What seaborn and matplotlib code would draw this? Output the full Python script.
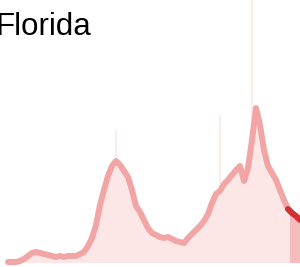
import numpy as np
import pandas as pd
import matplotlib
matplotlib.use('Agg')
import matplotlib.pyplot as plt
import seaborn as sns

# weekly 7-day average of new cases (hundreds)
avg_cases = [1, 1, 1, 2, 4, 7, 10, 11, 10, 9, 8, 7, 6, 7, 6, 7, 7, 7, 9, 11,
             17, 25, 38, 58, 73, 87, 97, 102, 98, 92, 86, 73, 57, 51, 43, 35, 30, 28, 26, 25,
             26, 24, 22, 21, 20, 25, 29, 33, 37, 42, 49, 60, 69, 72, 79, 83, 88, 93, 97, 82,
             95, 123, 155, 138, 113, 97, 90, 83, 73, 63, 54, 50, 47, 43]

# daily reported cases (same scale), with the reporting spikes
daily_cases = [1, 1, 1, 2, 4, 7, 10, 12, 10, 9, 8, 7, 6, 7, 6, 7, 7, 7, 9, 11,
               17, 25, 38, 58, 73, 87, 97, 133, 98, 92, 86, 73, 60, 51, 43, 35, 30, 28, 26, 25,
               26, 24, 22, 21, 20, 25, 29, 33, 37, 42, 49, 60, 69, 148, 79, 83, 88, 93, 97, 82,
               95, 263, 155, 138, 113, 97, 90, 83, 73, 63, 54, 50, 47, 43]

recent_from = 71  # last weeks highlighted in dark red

df = pd.DataFrame({'week': np.arange(len(avg_cases)), 'avg': avg_cases, 'daily': daily_cases})
df['base'] = df[['avg', 'daily']].min(axis=1)
old = df[df.week < recent_from]
new = df[df.week >= recent_from]

sns.set_style('white')
fig = plt.figure(figsize=(3.0, 2.67), dpi=100)
ax = fig.add_axes([0, 0, 1, 1])

# faint daily bars; spikes drawn thin like single-day reports
ax.bar(old.week, old.base, width=1.0, color='#fce6e6', linewidth=0)
ax.bar(old.week, old.daily - old.base, bottom=old.base, width=0.3,
       color='#fcebeb', linewidth=0)
ax.bar(new.week, new.daily, width=1.0, color='#f4bcbc', linewidth=0)

sns.lineplot(data=df[df.week <= recent_from], x='week', y='avg', ax=ax,
             color='#f1a5a5', linewidth=4.3, solid_capstyle='round')
sns.lineplot(data=df[df.week >= recent_from - 1], x='week', y='avg', ax=ax,
             color='#d42f32', linewidth=4.3, solid_capstyle='round')

ax.set_xlim(-2, 73)
ax.set_ylim(-4, 263)
ax.axis('off')

fig.text(-5 / 300, 1 - 35 / 267, 'Florida', fontsize=22.5, va='baseline', color='black',
         family=['Liberation Sans', 'DejaVu Sans'])

fig.savefig('out.png', dpi=100)
